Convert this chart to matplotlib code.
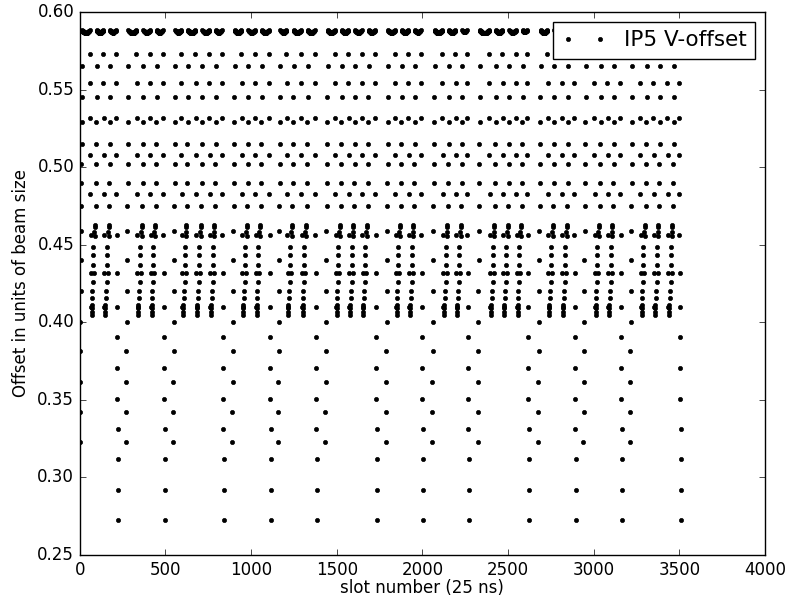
import matplotlib
matplotlib.use('Agg')
import matplotlib.pyplot as plt

# ---- data ----
# slot of the first bunch of every train, slot of the last (end-column) bunch
train_start_slot = [0, 270, 545, 890, 1158, 1433, 1787, 2057, 2322, 2676, 2940, 3212]
train_end_slot = [224, 498, 842, 1117, 1385, 1736, 2004, 2272, 2623, 2897, 3166, 3510]
# centres of the 8-slot gaps between batches inside each train
batch_gap_slot = [[79, 158], [352, 430], [612, 696, 776], [965, 1043], [1228, 1311],
                  [1510, 1588, 1666], [1860, 1938], [2136, 2214], [2410, 2488, 2566],
                  [2751, 2833], [3022, 3100], [3290, 3368, 3450]]

# offsets of the bunches at the head of a train (top to bottom)
train_start_offset = [0.5654, 0.5454, 0.5289, 0.5149, 0.5020, 0.4896, 0.4751, 0.4588,
                      0.4401, 0.4204, 0.4004, 0.3815, 0.3615, 0.3422, 0.3228]
# offsets of the bunches at the tail of a train (top to bottom)
train_end_offset = [0.5727, 0.5540, 0.5318, 0.5078, 0.4825, 0.4563, 0.4316, 0.4100,
                    0.3905, 0.3705, 0.3505, 0.3312, 0.3119, 0.2919, 0.2725]
# offsets at the head / tail of a batch that sits inside a train
batch_start_offset = [0.5654, 0.5454, 0.5289, 0.5149, 0.5020, 0.4896, 0.4751]
batch_end_offset = [0.5727, 0.5540, 0.5318, 0.5078, 0.4825, 0.4563, 0.4316, 0.4100]
# bunches right next to an 8-slot batch gap: slot shift from gap centre, offset
gap_shift = [10, 10, 6, 10, 0, 0, 0, 6, 0, -6, -6, -10, -10, -10, -10]
gap_offset = [0.4627, 0.4612, 0.4584, 0.4556, 0.4487, 0.4434, 0.4369, 0.4316,
              0.4262, 0.4204, 0.4154, 0.4111, 0.4090, 0.4068, 0.4047]
# offsets of the fully-packed bunches, by distance (slots) from the edge of the batch core
core_profile = [0.5881, 0.5880, 0.5879, 0.5878, 0.5877, 0.5876, 0.5875, 0.5874, 0.5873,
                0.5872, 0.5871, 0.5870, 0.5869, 0.5868, 0.5867, 0.5866, 0.5866, 0.5865,
                0.5865, 0.5864, 0.5864, 0.5864, 0.5864, 0.5864, 0.5864, 0.5864]

# ---- assemble bunch list ----
xs, ys = [], []
for S, E, gaps in zip(train_start_slot, train_end_slot, batch_gap_slot):
    n = len(train_start_offset)
    for i, y in enumerate(train_start_offset):
        xs.append(S + (n - 1 - i)); ys.append(y)
    n = len(train_end_offset)
    for i, y in enumerate(train_end_offset):
        xs.append(E - (n - 1 - i)); ys.append(y)
    lefts = [S + len(train_start_offset) - 1]
    rights = []
    for G in gaps:
        n = len(batch_end_offset)
        for i, y in enumerate(batch_end_offset):
            xs.append(G - 14 - (n - 1 - i)); ys.append(y)
        rights.append(G - 14 - (n - 1))
        n = len(batch_start_offset)
        for i, y in enumerate(batch_start_offset):
            xs.append(G + 14 + (n - 1 - i)); ys.append(y)
        lefts.append(G + 14 + n - 1)
        for dx, y in zip(gap_shift, gap_offset):
            xs.append(G + dx); ys.append(y)
    rights.append(E - (len(train_end_offset) - 1))
    for L, R in zip(lefts, rights):
        for p in range(L, R + 1):
            d = min(p - L, R - p)
            xs.append(p); ys.append(core_profile[min(d, len(core_profile) - 1)])

# ---- plot ----
plt.style.use('classic')
plt.rcParams['figure.facecolor'] = 'white'
plt.rcParams['savefig.facecolor'] = 'white'

fig = plt.figure(figsize=(7.87, 5.99), dpi=100)
ax = fig.add_axes([0.1013, 0.0735, 0.8707, 0.9065])
ax.plot(xs, ys, 'k.', label='IP5 V-offset')
ax.set_xlim(0, 4000)
ax.set_ylim(0.25, 0.60)
ax.set_xticks([0, 500, 1000, 1500, 2000, 2500, 3000, 3500, 4000])
ax.set_yticks([0.25, 0.30, 0.35, 0.40, 0.45, 0.50, 0.55, 0.60])
ax.set_yticklabels(['0.25', '0.30', '0.35', '0.40', '0.45', '0.50', '0.55', '0.60'])
ax.set_xlabel('slot number (25 ns)', labelpad=0)
ax.set_ylabel('Offset in units of beam size', labelpad=5)
ax.legend(loc='upper right', numpoints=2, fontsize=15.5, handlelength=2.1,
          borderaxespad=0.45)
fig.savefig('out.png', dpi=100)
